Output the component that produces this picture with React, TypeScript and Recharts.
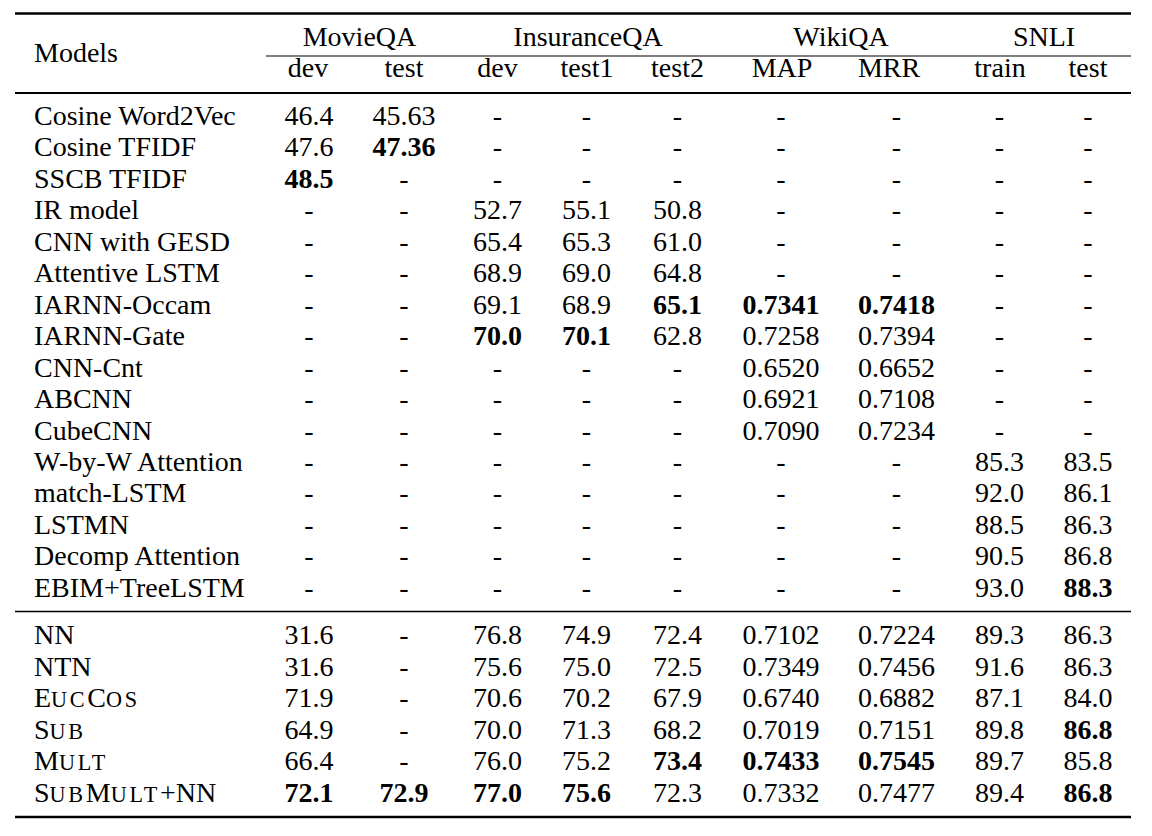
import React from 'react';
import { ScatterChart, Scatter, XAxis, YAxis, ReferenceLine } from 'recharts';

// ---------- data ----------
const models = [
  'Cosine Word2Vec', 'Cosine TFIDF', 'SSCB TFIDF', 'IR model', 'CNN with GESD',
  'Attentive LSTM', 'IARNN-Occam', 'IARNN-Gate', 'CNN-Cnt', 'ABCNN', 'CubeCNN',
  'W-by-W Attention', 'match-LSTM', 'LSTMN', 'Decomp Attention', 'EBIM+TreeLSTM',
  'NN', 'NTN', 'EucCos', 'Sub', 'Mult', 'SubMult+NN',
];
const smallCapsModels = ['EucCos', 'Sub', 'Mult', 'SubMult+NN'];

const groupLabels = ['MovieQA', 'InsuranceQA', 'WikiQA', 'SNLI'];
const subLabels = ['dev', 'test', 'dev', 'test1', 'test2', 'MAP', 'MRR', 'train', 'test'];

const movieDev = ['46.4', '47.6', '48.5', '-', '-', '-', '-', '-', '-', '-', '-', '-', '-', '-', '-', '-', '31.6', '31.6', '71.9', '64.9', '66.4', '72.1'];
const movieTest = ['45.63', '47.36', '-', '-', '-', '-', '-', '-', '-', '-', '-', '-', '-', '-', '-', '-', '-', '-', '-', '-', '-', '72.9'];
const insDev = ['-', '-', '-', '52.7', '65.4', '68.9', '69.1', '70.0', '-', '-', '-', '-', '-', '-', '-', '-', '76.8', '75.6', '70.6', '70.0', '76.0', '77.0'];
const insTest1 = ['-', '-', '-', '55.1', '65.3', '69.0', '68.9', '70.1', '-', '-', '-', '-', '-', '-', '-', '-', '74.9', '75.0', '70.2', '71.3', '75.2', '75.6'];
const insTest2 = ['-', '-', '-', '50.8', '61.0', '64.8', '65.1', '62.8', '-', '-', '-', '-', '-', '-', '-', '-', '72.4', '72.5', '67.9', '68.2', '73.4', '72.3'];
const wikiMap = ['-', '-', '-', '-', '-', '-', '0.7341', '0.7258', '0.6520', '0.6921', '0.7090', '-', '-', '-', '-', '-', '0.7102', '0.7349', '0.6740', '0.7019', '0.7433', '0.7332'];
const wikiMrr = ['-', '-', '-', '-', '-', '-', '0.7418', '0.7394', '0.6652', '0.7108', '0.7234', '-', '-', '-', '-', '-', '0.7224', '0.7456', '0.6882', '0.7151', '0.7545', '0.7477'];
const snliTrain = ['-', '-', '-', '-', '-', '-', '-', '-', '-', '-', '-', '85.3', '92.0', '88.5', '90.5', '93.0', '89.3', '91.6', '87.1', '89.8', '89.7', '89.4'];
const snliTest = ['-', '-', '-', '-', '-', '-', '-', '-', '-', '-', '-', '83.5', '86.1', '86.3', '86.8', '88.3', '86.3', '86.3', '84.0', '86.8', '85.8', '86.8'];

// best results (bold): [model, column]
const boldCells: [string, string][] = [
  ['Cosine TFIDF', 'movieTest'],
  ['SSCB TFIDF', 'movieDev'],
  ['IARNN-Occam', 'insTest2'], ['IARNN-Occam', 'wikiMap'], ['IARNN-Occam', 'wikiMrr'],
  ['IARNN-Gate', 'insDev'], ['IARNN-Gate', 'insTest1'],
  ['EBIM+TreeLSTM', 'snliTest'],
  ['Sub', 'snliTest'],
  ['Mult', 'insTest2'], ['Mult', 'wikiMap'], ['Mult', 'wikiMrr'],
  ['SubMult+NN', 'movieDev'], ['SubMult+NN', 'movieTest'], ['SubMult+NN', 'insDev'],
  ['SubMult+NN', 'insTest1'], ['SubMult+NN', 'snliTest'],
];

const columns = [
  { key: 'movieDev', values: movieDev },
  { key: 'movieTest', values: movieTest },
  { key: 'insDev', values: insDev },
  { key: 'insTest1', values: insTest1 },
  { key: 'insTest2', values: insTest2 },
  { key: 'wikiMap', values: wikiMap },
  { key: 'wikiMrr', values: wikiMrr },
  { key: 'snliTrain', values: snliTrain },
  { key: 'snliTest', values: snliTest },
];

// ---------- layout ----------
const W = 1152;
const H = 836;
const ROW0 = 125; // baseline of first body row (px)
const ROW_H = 31.45; // row pitch (px)
const SECTION_GAP = 0.513; // extra rows before second block
const FONT = "'Liberation Serif', 'Times New Roman', 'DejaVu Serif', serif";
const FS = 28;
const SC_FS = 22.2;
const SC_SPACING = '2.7px';

const MODEL_X = 34;
const colX: Record<string, number> = {
  movieDev: 309, movieTest: 404, insDev: 497.5, insTest1: 586.5, insTest2: 677.5,
  wikiMap: 781, wikiMrr: 896.5, snliTrain: 999.5, snliTest: 1088,
};
const subLabelX = [308, 404, 497.5, 587, 677.5, 782, 889, 1000, 1088];
const groupLabelX = [359.5, 588, 841, 1044];

const slot = (i: number) => i + (i >= 16 ? SECTION_GAP : 0);
const GROUP_SLOT = -2.512;
const SUB_SLOT = -1.517;
const MODELS_HEAD_SLOT = -1.994;

const RULE_L = 15;
const RULE_R = 1131;
const CMID_L = 266;
const rules = [
  { y: -3.545, x1: RULE_L, w: 2.4 },
  { y: -2.194, x1: CMID_L, w: 1.2 },
  { y: -1.017, x1: RULE_L, w: 1.8 },
  { y: 15.469, x1: RULE_L, w: 1.3 },
  { y: 22.003, x1: RULE_L, w: 2.4 },
];

const Y_MIN = -ROW0 / ROW_H;
const Y_MAX = (H - ROW0) / ROW_H;

const isBold = (row: number, key: string) =>
  boldCells.some(([m, k]) => m === models[row] && k === key);

function smallCaps(s: string) {
  const parts = s.match(/[a-z]+|[^a-z]+/g) || [];
  return parts.map((p, i) =>
    /[a-z]/.test(p) ? (
      <tspan key={i} fontSize={SC_FS} style={{ letterSpacing: SC_SPACING }}>
        {p.toUpperCase()}
      </tspan>
    ) : (
      <tspan key={i}>{p}</tspan>
    )
  );
}

const TextShape = (props: any) => {
  const { cx, cy, payload } = props;
  if (cx == null || cy == null) return null;
  const sc = payload.smallCaps;
  return (
    <text
      x={cx}
      y={cy}
      textAnchor={payload.anchor || 'middle'}
      fontFamily={FONT}
      fontSize={FS}
      fontWeight={payload.bold ? 'bold' : 'normal'}
      fill="#000"
    >
      {sc ? smallCaps(payload.text) : payload.text}
    </text>
  );
};

const modelData = models.map((m, i) => ({
  x: MODEL_X, y: slot(i), text: m, anchor: 'start', smallCaps: smallCapsModels.includes(m),
}));
const headerData = [
  { x: MODEL_X, y: MODELS_HEAD_SLOT, text: 'Models', anchor: 'start' },
  ...groupLabels.map((g, i) => ({ x: groupLabelX[i], y: GROUP_SLOT, text: g })),
  ...subLabels.map((s, i) => ({ x: subLabelX[i], y: SUB_SLOT, text: s })),
];
const columnData = columns.map((c) =>
  c.values.map((v, i) => ({ x: colX[c.key], y: slot(i), text: v, bold: isBold(i, c.key) }))
);

export default function App() {
  return (
    <div style={{ position: 'absolute', left: 0, top: 0, width: W, height: H, background: '#fff' }}>
      <ScatterChart width={W} height={H} margin={{ top: 0, right: 0, bottom: 0, left: 0 }}>
        <XAxis type="number" dataKey="x" domain={[0, W]} hide allowDataOverflow />
        <YAxis type="number" dataKey="y" domain={[Y_MIN, Y_MAX]} reversed hide allowDataOverflow />
        {rules.map((r, i) => (
          <ReferenceLine
            key={i}
            segment={[{ x: r.x1, y: r.y }, { x: RULE_R, y: r.y }]}
            stroke="#000"
            strokeWidth={r.w}
          />
        ))}
        <Scatter data={headerData} shape={TextShape} isAnimationActive={false} />
        <Scatter data={modelData} shape={TextShape} isAnimationActive={false} />
        {columnData.map((d, i) => (
          <Scatter key={columns[i].key} data={d} shape={TextShape} isAnimationActive={false} />
        ))}
      </ScatterChart>
    </div>
  );
}
